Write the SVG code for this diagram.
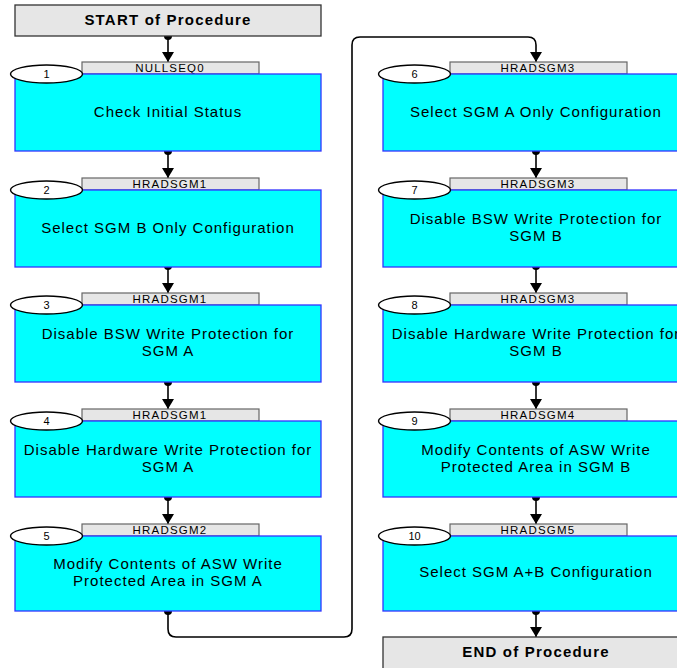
<svg xmlns="http://www.w3.org/2000/svg" width="677" height="668" viewBox="0 0 677 668">
<defs>
<style>
.term{fill:#e6e6e6;stroke:#333;stroke-width:1.3}
.termt{font-family:"Liberation Sans",Arial,sans-serif;font-size:15px;font-weight:bold;letter-spacing:1.2px;text-anchor:middle;fill:#000}
.box{fill:#00ffff;stroke:#3333ff;stroke-width:1.3}
.tab{fill:#e6e6e6;stroke:#666;stroke-width:1.2}
.tabt{font-family:"Liberation Sans",Arial,sans-serif;font-size:11.5px;letter-spacing:1.2px;text-anchor:middle;fill:#000}
.num{fill:#fff;stroke:#000;stroke-width:1.4}
.numt{font-family:"Liberation Sans",Arial,sans-serif;font-size:11px;text-anchor:middle;fill:#000}
.lbl{font-family:"Liberation Sans",Arial,sans-serif;font-size:15px;letter-spacing:1px;text-anchor:middle;fill:#000}
.wire{fill:none;stroke:#000;stroke-width:1.6}
.dot{fill:#000}
</style>
<marker id="arr" viewBox="0 0 10 12" refX="10" refY="6" markerWidth="10" markerHeight="12" markerUnits="userSpaceOnUse" orient="auto">
<path d="M0,0 L10,6 L0,12 z" fill="#000"/>
</marker>
</defs>
<rect width="677" height="668" fill="#fff"/>

<g id="connectors">
<path class="wire" d="M168,36 V62" marker-end="url(#arr)"/>
<circle class="dot" cx="168" cy="36" r="4"/>
<path class="wire" d="M168,151 V178" marker-end="url(#arr)"/>
<circle class="dot" cx="168" cy="151" r="4"/>
<path class="wire" d="M168,266 V293" marker-end="url(#arr)"/>
<circle class="dot" cx="168" cy="266" r="4"/>
<path class="wire" d="M168,382 V409" marker-end="url(#arr)"/>
<circle class="dot" cx="168" cy="382" r="4"/>
<path class="wire" d="M168,497 V524" marker-end="url(#arr)"/>
<circle class="dot" cx="168" cy="497" r="4"/>
<path class="wire" d="M168,611 V629 Q168,637 176,637 H344 Q352,637 352,629 V45 Q352,37 360,37 H528 Q536,37 536,45 V62" marker-end="url(#arr)"/>
<circle class="dot" cx="168" cy="611" r="4"/>
<path class="wire" d="M536,151 V178" marker-end="url(#arr)"/>
<circle class="dot" cx="536" cy="151" r="4"/>
<path class="wire" d="M536,266 V293" marker-end="url(#arr)"/>
<circle class="dot" cx="536" cy="266" r="4"/>
<path class="wire" d="M536,382 V409" marker-end="url(#arr)"/>
<circle class="dot" cx="536" cy="382" r="4"/>
<path class="wire" d="M536,497 V524" marker-end="url(#arr)"/>
<circle class="dot" cx="536" cy="497" r="4"/>
<path class="wire" d="M536,611 V637" marker-end="url(#arr)"/>
<circle class="dot" cx="536" cy="611" r="4"/>
</g>

<g id="start">
<rect class="term" x="15" y="5" width="306" height="31"/>
<text class="termt" x="168" y="25">START of Procedure</text>
</g>

<g id="n1">
<rect class="tab" x="82" y="62" width="177" height="12"/>
<text class="tabt" x="170" y="72">NULLSEQ0</text>
<rect class="box" x="15" y="74" width="306" height="77"/>
<ellipse class="num" cx="46.5" cy="74" rx="36" ry="9"/>
<text class="numt" x="46.5" y="78">1</text>
<text class="lbl" x="168" y="117">Check Initial Status</text>
</g>

<g id="n2">
<rect class="tab" x="82" y="178" width="177" height="12"/>
<text class="tabt" x="170" y="188">HRADSGM1</text>
<rect class="box" x="15" y="190" width="306" height="77"/>
<ellipse class="num" cx="46.5" cy="190" rx="36" ry="9"/>
<text class="numt" x="46.5" y="194">2</text>
<text class="lbl" x="168" y="233">Select SGM B Only Configuration</text>
</g>

<g id="n3">
<rect class="tab" x="82" y="293" width="177" height="12"/>
<text class="tabt" x="170" y="303">HRADSGM1</text>
<rect class="box" x="15" y="305" width="306" height="77"/>
<ellipse class="num" cx="46.5" cy="305" rx="36" ry="9"/>
<text class="numt" x="46.5" y="309">3</text>
<text class="lbl" x="168" y="339">Disable BSW Write Protection for</text>
<text class="lbl" x="168" y="356">SGM A</text>
</g>

<g id="n4">
<rect class="tab" x="82" y="409" width="177" height="12"/>
<text class="tabt" x="170" y="419">HRADSGM1</text>
<rect class="box" x="15" y="421" width="306" height="76"/>
<ellipse class="num" cx="46.5" cy="421" rx="36" ry="9"/>
<text class="numt" x="46.5" y="425">4</text>
<text class="lbl" x="168" y="455">Disable Hardware Write Protection for</text>
<text class="lbl" x="168" y="472">SGM A</text>
</g>

<g id="n5">
<rect class="tab" x="82" y="524" width="177" height="12"/>
<text class="tabt" x="170" y="534">HRADSGM2</text>
<rect class="box" x="15" y="536" width="306" height="75"/>
<ellipse class="num" cx="46.5" cy="536" rx="36" ry="9"/>
<text class="numt" x="46.5" y="540">5</text>
<text class="lbl" x="168" y="569">Modify Contents of ASW Write</text>
<text class="lbl" x="168" y="586">Protected Area in SGM A</text>
</g>

<g id="n6">
<rect class="tab" x="450" y="62" width="177" height="12"/>
<text class="tabt" x="538" y="72">HRADSGM3</text>
<rect class="box" x="383" y="74" width="306" height="77"/>
<ellipse class="num" cx="414.5" cy="74" rx="36" ry="9"/>
<text class="numt" x="414.5" y="78">6</text>
<text class="lbl" x="536" y="117">Select SGM A Only Configuration</text>
</g>

<g id="n7">
<rect class="tab" x="450" y="178" width="177" height="12"/>
<text class="tabt" x="538" y="188">HRADSGM3</text>
<rect class="box" x="383" y="190" width="306" height="77"/>
<ellipse class="num" cx="414.5" cy="190" rx="36" ry="9"/>
<text class="numt" x="414.5" y="194">7</text>
<text class="lbl" x="536" y="224">Disable BSW Write Protection for</text>
<text class="lbl" x="536" y="241">SGM B</text>
</g>

<g id="n8">
<rect class="tab" x="450" y="293" width="177" height="12"/>
<text class="tabt" x="538" y="303">HRADSGM3</text>
<rect class="box" x="383" y="305" width="306" height="77"/>
<ellipse class="num" cx="414.5" cy="305" rx="36" ry="9"/>
<text class="numt" x="414.5" y="309">8</text>
<text class="lbl" x="536" y="339">Disable Hardware Write Protection for</text>
<text class="lbl" x="536" y="356">SGM B</text>
</g>

<g id="n9">
<rect class="tab" x="450" y="409" width="177" height="12"/>
<text class="tabt" x="538" y="419">HRADSGM4</text>
<rect class="box" x="383" y="421" width="306" height="76"/>
<ellipse class="num" cx="414.5" cy="421" rx="36" ry="9"/>
<text class="numt" x="414.5" y="425">9</text>
<text class="lbl" x="536" y="455">Modify Contents of ASW Write</text>
<text class="lbl" x="536" y="472">Protected Area in SGM B</text>
</g>

<g id="n10">
<rect class="tab" x="450" y="524" width="177" height="12"/>
<text class="tabt" x="538" y="534">HRADSGM5</text>
<rect class="box" x="383" y="536" width="306" height="75"/>
<ellipse class="num" cx="414.5" cy="536" rx="36" ry="9"/>
<text class="numt" x="414.5" y="540">10</text>
<text class="lbl" x="536" y="577">Select SGM A+B Configuration</text>
</g>

<g id="end">
<rect class="term" x="383" y="637" width="306" height="40"/>
<text class="termt" x="536" y="657">END of Procedure</text>
</g>
</svg>
